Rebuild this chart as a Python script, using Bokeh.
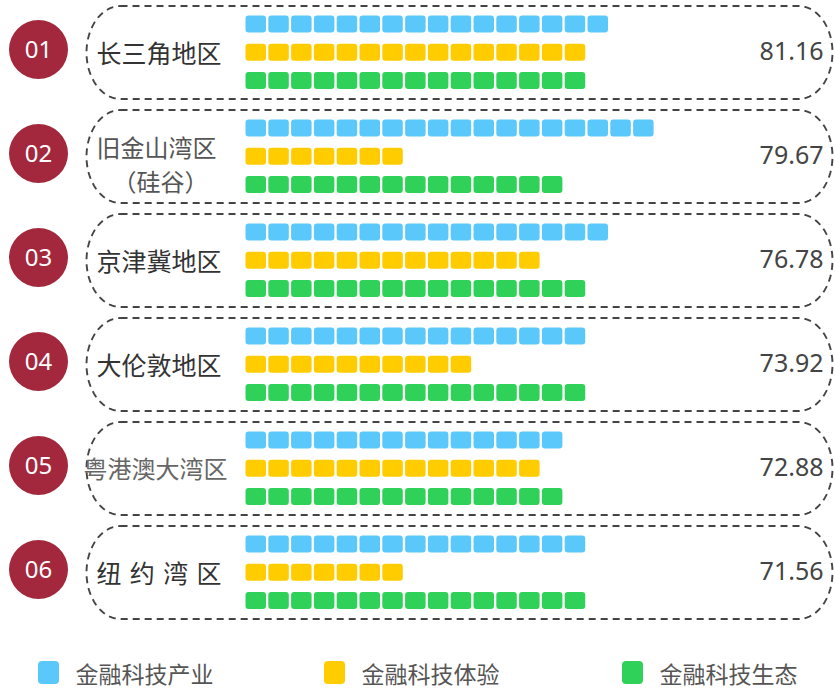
import numpy as np
from bokeh.plotting import figure
from bokeh.models import Range1d, ColumnDataSource
from bokeh.core.properties import value
from bokeh.embed import file_html
from bokeh.resources import INLINE

# ---- data ----
ranks = ["01", "02", "03", "04", "05", "06"]
regions = ["长三角地区", "旧金山湾区", "京津冀地区", "大伦敦地区", "粤港澳大湾区", "纽\u2004约\u2004湾\u2004区"]
scores = ["81.16", "79.67", "76.78", "73.92", "72.88", "71.56"]
industry = [16, 18, 16, 15, 14, 15]     # 金融科技产业 (cells)
experience = [15, 7, 13, 10, 13, 7]     # 金融科技体验 (cells)
ecology = [15, 14, 15, 15, 14, 15]      # 金融科技生态 (cells)
series_names = ["金融科技产业", "金融科技体验", "金融科技生态"]
series_colors = ["#5AC8FA", "#FFCC00", "#30D158"]

W, H = 835, 690
CJK = "Noto Sans CJK SC"

p = figure(width=W, height=H, x_range=Range1d(0, W), y_range=Range1d(H, 0),
           output_backend="svg", toolbar_location=None, min_border=0)
p.axis.visible = False
p.grid.visible = False
p.outline_line_color = None
p.background_fill_color = "white"
p.border_fill_color = "white"

pitch_y = 104
box_c0 = 52
cell_x0 = 245
cell_pitch = 22.8
cell_w, cell_h = 20.5, 17


def stadium(x0, x1, yc, h, r):
    top, bot = yc - h / 2, yc + h / 2
    ry = h / 2
    xs = [x0 + r, x1 - r]
    ys = [top, top]
    t = np.linspace(-np.pi / 2, np.pi / 2, 40)
    xs += list(x1 - r + r * np.cos(t)); ys += list(yc + ry * np.sin(t))
    xs += [x0 + r]; ys += [bot]
    t = np.linspace(np.pi / 2, 3 * np.pi / 2, 40)
    xs += list(x0 + r + r * np.cos(t)); ys += list(yc + ry * np.sin(t))
    return xs, ys


for i in range(len(regions)):
    yc = box_c0 + pitch_y * i
    # dashed card
    bx, by = stadium(86, 832, yc, 93, 34)
    p.line(bx, by, line_color="#444444", line_width=1.9, line_dash="7 5")

    # cells
    for j, counts in enumerate([industry, experience, ecology]):
        n = counts[i]
        xs = cell_x0 + cell_w / 2 + cell_pitch * np.arange(n)
        ys = np.full(n, yc + (j - 1) * 28.3 - 0.3)
        p.rect(x=xs, y=ys, width=cell_w, height=cell_h, fill_color=series_colors[j],
               line_color=None, border_radius=3)

# rank circles
rank_src = ColumnDataSource(dict(x=[38] * 6, y=[box_c0 - 3 + pitch_y * i for i in range(6)], t=ranks))
p.circle(x="x", y="y", radius=29.5, source=rank_src, fill_color="#A4283D", line_color=None)
p.text(x="x", y="y", text="t", source=rank_src, text_color="white", text_font=value("Noto Sans"),
       text_font_size="24px", text_align="center", text_baseline="middle")

# region labels
for i, name in enumerate(regions):
    yc = box_c0 + pitch_y * i
    if i == 1:
        p.text(x=[96], y=[yc - 10], text=[name], text_font=value(CJK), text_font_size="24px",
               text_color="#555555", text_baseline="middle", text_align="left")
        p.text(x=[160], y=[yc + 24], text=["（硅谷）"], text_font=value(CJK), text_font_size="24px",
               text_color="#555555", text_baseline="middle", text_align="center")
    elif i == 4:
        p.text(x=[83], y=[yc - 1], text=[name], text_font=value(CJK), text_font_size="24px",
               text_color="#666666", text_baseline="middle", text_align="left")
    else:
        p.text(x=[96], y=[yc - 1], text=[name], text_font=value(CJK), text_font_size="25px",
               text_color="#333333", text_baseline="middle", text_align="left")

# scores
score_src = ColumnDataSource(dict(x=[823] * 6, y=[box_c0 - 2 + pitch_y * i for i in range(6)], t=scores))
p.text(x="x", y="y", text="t", source=score_src, text_color="#444444", text_font=value("Noto Sans"),
       text_font_size="25px", text_align="right", text_baseline="middle")

# legend
leg_x = [48, 334, 632]
for k in range(3):
    p.rect(x=[leg_x[k]], y=[672], width=21, height=23, fill_color=series_colors[k],
           line_color=None, border_radius=4)
    p.text(x=[leg_x[k] + 27], y=[672], text=[series_names[k]], text_font=value(CJK),
           text_font_size="23px", text_color="#555555", text_baseline="middle", text_align="left")

open("out.html", "w").write(file_html(p, INLINE))
